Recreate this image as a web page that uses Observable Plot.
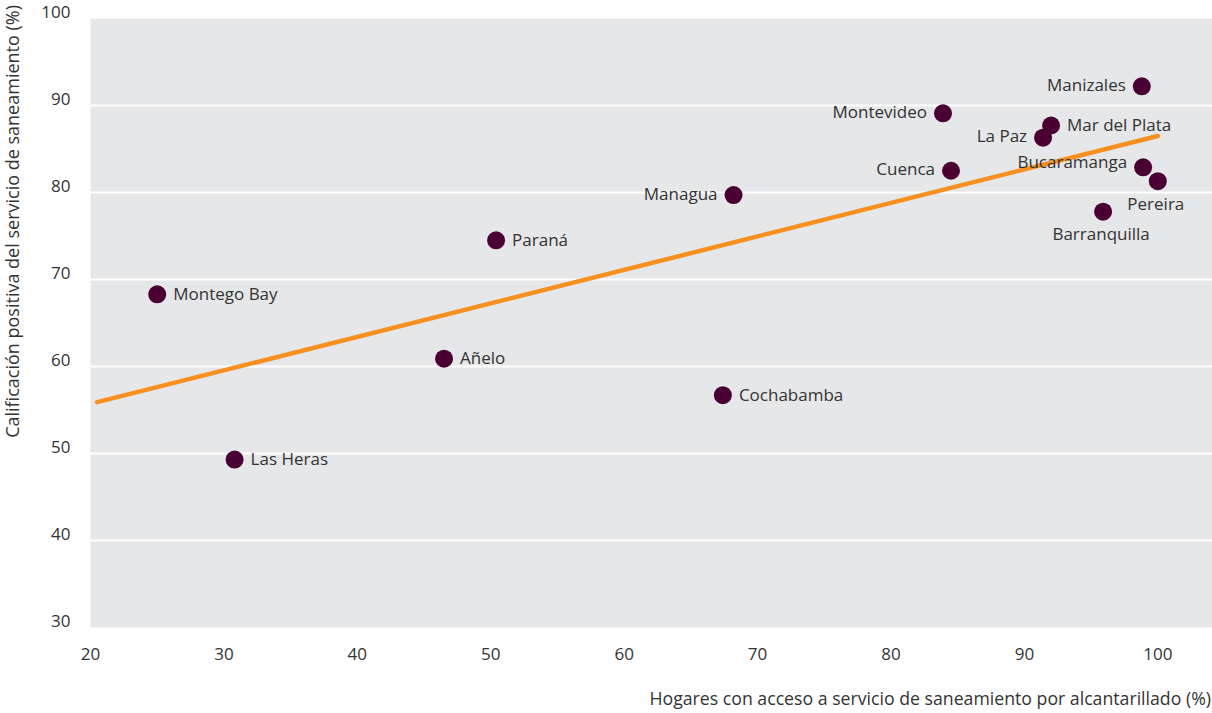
<!DOCTYPE html>
<html>
<head>
<meta charset="utf-8">
<script src="https://cdn.jsdelivr.net/npm/d3@7"></script>
<script src="https://cdn.jsdelivr.net/npm/@observablehq/plot@0.6"></script>
<style>
  html, body { margin: 0; padding: 0; background: #fff; }
  #chart svg { display: block; }
</style>
</head>
<body>
<div id="chart"></div>
<script>
// Data
const cities = ["Montego Bay","Las Heras","Añelo","Paraná","Cochabamba","Managua","Montevideo","Cuenca","La Paz","Mar del Plata","Manizales","Bucaramanga","Pereira","Barranquilla"];
const accesoAlcantarillado = [25.0, 30.8, 46.5, 50.4, 67.4, 68.2, 83.9, 84.5, 91.4, 92.0, 98.8, 98.9, 100.0, 95.9];
const calificacionPositiva = [68.3, 49.3, 60.9, 74.5, 56.7, 79.7, 89.1, 82.5, 86.3, 87.7, 92.2, 82.9, 81.3, 77.8];
const trendX = [20.5, 100];
const trendY = [55.9, 86.5];
const xTicks = [20, 30, 40, 50, 60, 70, 80, 90, 100];
const yTicks = [30, 40, 50, 60, 70, 80, 90, 100];

// Label placement (styling, kept separate from data)
const labelSide = {
  "Montego Bay":"right","Las Heras":"right","Añelo":"right","Paraná":"right","Cochabamba":"right",
  "Managua":"left","Montevideo":"left","Cuenca":"left","La Paz":"left","Mar del Plata":"right",
  "Manizales":"left","Bucaramanga":"left","Pereira":"below","Barranquilla":"below"
};

const data = cities.map((c, i) => ({city: c, x: accesoAlcantarillado[i], y: calificacionPositiva[i], side: labelSide[c]}));
const trend = trendX.map((x, i) => ({x, y: trendY[i]}));

const font = "'Open Sans', sans-serif";
const textColor = "#333333";
const fs = 17;

const W = 1212, H = 713;
const plot = Plot.plot({
  width: W,
  height: H,
  marginLeft: 90,
  marginRight: 0,
  marginTop: 18,
  marginBottom: 86,
  style: { fontFamily: font, fontSize: fs + "px", color: textColor, background: "#ffffff" },
  x: { domain: [20, 104.1], ticks: xTicks, tickSize: 0, tickPadding: 20, label: null },
  y: { domain: [30, 100], ticks: yTicks, tickSize: 0, tickPadding: 20, label: null },
  marks: [
    Plot.frame({ fill: "#e6e7e9", stroke: null }),
    Plot.ruleY(yTicks.filter(t => t > 30 && t < 100), { stroke: "#ffffff", strokeWidth: 2 }),
    Plot.line(trend, { x: "x", y: "y", stroke: "#f7901e", strokeWidth: 4.5, strokeLinecap: "round" }),
    Plot.dot(data, { x: "x", y: "y", r: 9, fill: "#4a0033", stroke: null }),
    Plot.text(data.filter(d => d.side === "right"), { x: "x", y: "y", text: "city", textAnchor: "start", dx: 16, dy: 0, fill: textColor, fontSize: fs }),
    Plot.text(data.filter(d => d.side === "left" && d.city !== "Bucaramanga"), { x: "x", y: "y", text: "city", textAnchor: "end", dx: -16, dy: -1, fill: textColor, fontSize: fs }),
    Plot.text(data.filter(d => d.city === "Bucaramanga"), { x: "x", y: "y", text: "city", textAnchor: "end", dx: -16, dy: -5, fill: textColor, fontSize: fs }),
    Plot.text(data.filter(d => d.side === "below"), { x: "x", y: "y", text: "city", textAnchor: "middle", dx: -2, dy: 23, fill: textColor, fontSize: fs }),
    Plot.axisY({ ticks: yTicks, tickSize: 0, tickPadding: 20, dy: -6, label: null, fill: textColor, fontSize: fs }),
    Plot.axisX({ ticks: xTicks, tickSize: 0, tickPadding: 20, label: null, fill: textColor, fontSize: fs })
  ]
});

const svg = d3.select(plot);
svg.append("text")
  .attr("transform", `translate(19,5) rotate(-90)`)
  .attr("text-anchor", "end")
  .attr("font-family", font)
  .attr("font-size", 18)
  .attr("fill", textColor)
  .text("Calificación positiva del servicio de saneamiento (%)");
svg.append("text")
  .attr("x", 1211)
  .attr("y", 705)
  .attr("text-anchor", "end")
  .attr("font-family", font)
  .attr("font-size", 17.7)
  .attr("fill", textColor)
  .text("Hogares con acceso a servicio de saneamiento por alcantarillado (%)");

document.getElementById("chart").appendChild(plot);
</script>
</body>
</html>
